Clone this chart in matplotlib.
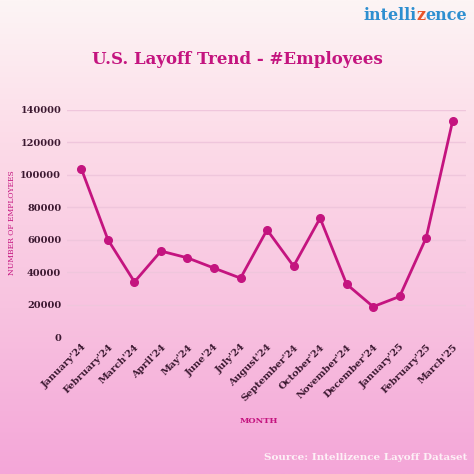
import matplotlib.pyplot as plt
import numpy as np
from matplotlib.colors import LinearSegmentedColormap

months = ["January'24", "February'24", "March'24", "April'24", "May'24", "June'24",
          "July'24", "August'24", "September'24", "October'24", "November'24",
          "December'24", "January'25", "February'25", "March'25"]
employees = [103600, 60000, 34000, 53000, 48800, 42500, 36300, 66100, 43700,
             73300, 32600, 18700, 25000, 61200, 133400]
yticks = [0, 20000, 40000, 60000, 80000, 100000, 120000, 140000]

magenta = '#c4147f'
dark = '#3b1830'

fig = plt.figure(figsize=(4.74, 4.74), dpi=100)

# background gradient
bg = fig.add_axes([0, 0, 1, 1], zorder=-10)
cmap = LinearSegmentedColormap.from_list(
    'bg', [(0, '#fdf5f5'), (0.3, '#fcdbe8'), (0.65, '#f8c3e0'), (1, '#f4a6d8')])
grad = np.linspace(0, 1, 256).reshape(-1, 1)
bg.imshow(grad, aspect='auto', cmap=cmap, extent=[0, 1, 0, 1], origin='upper')
bg.axis('off')

ax = fig.add_axes([0.141, 0.289, 0.842, 0.479])
ax.patch.set_alpha(0)
x = np.arange(len(months))
ax.plot(x, employees, color=magenta, lw=2.0, marker='o', markersize=5.5,
        clip_on=False, zorder=3)
ax.set_xlim(-0.55, 14.5)
ax.set_ylim(0, 140000)
ax.set_yticks(yticks)
ax.set_yticklabels([str(v) for v in yticks], fontsize=7, fontweight='bold',
                   color=dark, family='DejaVu Serif')
ax.set_xticks(x)
ax.set_xticklabels(months, rotation=45, ha='right', rotation_mode='anchor',
                   fontsize=7, color=dark, family='DejaVu Serif', fontweight='bold')
ax.grid(axis='y', color='#efc6dc', lw=1)
ax.tick_params(length=0, pad=4)
for s in ax.spines.values():
    s.set_visible(False)
ax.set_axisbelow(True)

fig.text(0.026, 0.53, 'NUMBER OF EMPLOYEES', rotation=90, ha='center', va='center',
         fontsize=5.5, color=magenta, family='DejaVu Serif')
fig.text(0.546, 0.112, 'MONTH', ha='center', va='center', fontsize=6,
         color=magenta, fontweight='bold', family='DejaVu Serif')

fig.text(0.5, 0.874, 'U.S. Layoff Trend - #Employees', ha='center', va='center',
         fontsize=12, color=magenta, fontweight='bold', family='DejaVu Serif')

# logo
t1 = fig.text(0.766, 0.968, 'intelli', ha='left', va='center', fontsize=11.5,
              color='#2e8fd0', fontweight='bold', family='DejaVu Serif')
fig.canvas.draw()
r = fig.canvas.get_renderer()
bb = t1.get_window_extent(r)
t2 = fig.text(bb.x1 / 474, 0.968, 'z', ha='left', va='center', fontsize=11.5,
              color='#e8552a', fontweight='bold', family='DejaVu Serif')
bb2 = t2.get_window_extent(r)
fig.text(bb2.x1 / 474, 0.968, 'ence', ha='left', va='center', fontsize=11.5,
         color='#2e8fd0', fontweight='bold', family='DejaVu Serif')

fig.text(0.987, 0.035, 'Source: Intellizence Layoff Dataset', ha='right', va='center',
         fontsize=7.5, color='#fdf0f6', fontweight='bold', family='DejaVu Serif')

fig.savefig('out.png', dpi=100)
